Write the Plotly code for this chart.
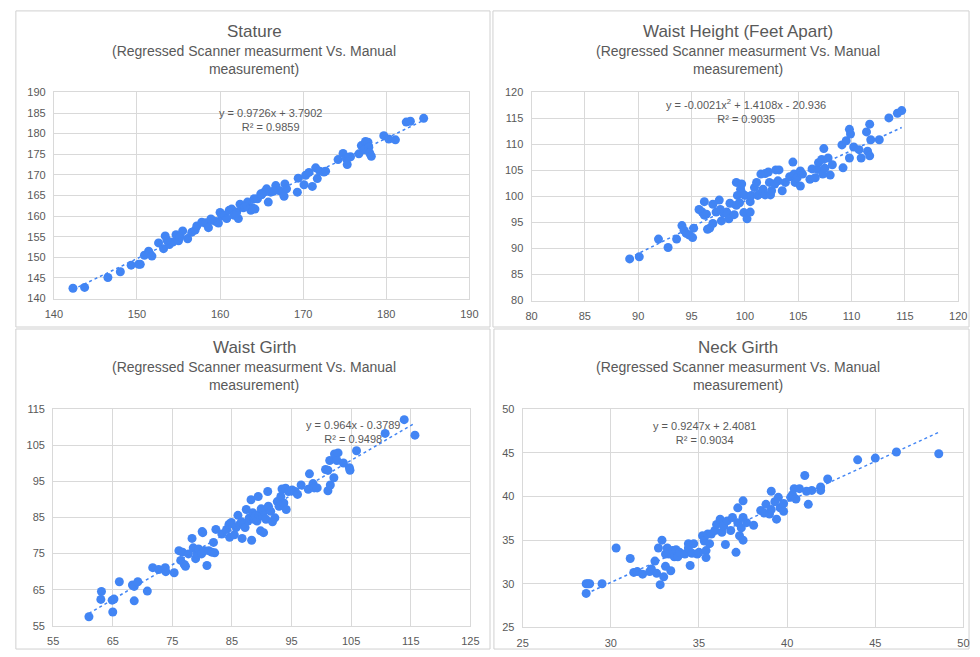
import numpy as np
import plotly.graph_objects as go

# ---------------- data ----------------
stature_x = [142.3, 143.7, 146.5, 148.0, 149.3, 150.2, 150.4, 150.9, 151.4, 151.5, 151.8, 152.6, 153.2, 153.4,
             153.9, 154.3, 154.7, 155.0, 155.5, 156.1, 156.6, 157.0, 157.2, 157.8, 158.3, 158.6, 159.0, 159.5,
             159.8, 160.0, 160.2, 160.6, 160.8, 161.1, 161.4, 161.7, 162.0, 162.2, 162.4, 162.8, 163.1, 163.3,
             163.7, 163.9, 164.1, 164.2, 164.5, 164.9, 165.3, 165.6, 165.8, 166.1, 166.7, 167.1, 167.5, 167.7,
             167.8, 168.0, 169.3, 169.4, 170.1, 170.3, 170.7, 171.1, 171.5, 171.7, 172.0, 172.5, 172.7, 174.2,
             174.8, 175.2, 175.3, 175.5, 175.7, 176.7, 177.0, 177.3, 177.5, 177.8, 177.9, 178.0, 178.2, 179.7,
             180.3, 181.1, 182.4, 182.9, 184.5, 153.6, 155.2, 158.9, 161.9, 163.0, 165.0, 166.4]
stature_y = [142.5, 142.7, 145.1, 146.5, 148.1, 148.3, 148.3, 150.5, 151.5, 151.0, 150.3, 153.5, 152.1, 155.2,
             153.1, 153.7, 155.5, 154.0, 156.4, 154.5, 156.1, 156.6, 157.6, 158.5, 158.4, 157.2, 159.0, 158.7,
             158.3, 160.9, 160.0, 160.2, 159.4, 161.4, 161.7, 160.2, 161.0, 159.4, 162.9, 162.0, 162.6, 163.4,
             161.4, 162.0, 164.2, 161.7, 164.2, 165.4, 165.8, 166.6, 163.4, 165.8, 167.4, 166.2, 165.8, 164.8,
             167.8, 166.6, 165.8, 169.2, 167.6, 169.9, 170.6, 167.2, 171.7, 169.1, 170.9, 170.7, 170.9, 173.7,
             175.2, 173.9, 172.5, 174.3, 174.4, 175.1, 177.1, 176.1, 178.1, 177.9, 176.7, 175.3, 174.5, 179.5,
             178.7, 178.5, 182.8, 183.0, 183.7, 154.2, 155.0, 159.3, 160.6, 162.3, 165.2, 166.0]

waist_h_x = [89.2, 90.1, 91.9, 92.8, 93.6, 94.1, 94.3, 94.5, 94.8, 95.1, 95.2, 95.7, 96.0, 96.2, 96.2, 96.4, 96.5,
             96.7, 97.0, 97.0, 97.3, 97.6, 97.7, 97.8, 98.0, 98.3, 98.5, 98.6, 99.0, 99.2, 99.2, 99.3, 99.5, 99.6,
             99.7, 99.8, 99.9, 100.0, 100.2, 100.5, 100.5, 100.6, 100.9, 101.1, 101.2, 101.4, 101.5, 101.7, 101.9,
             101.9, 102.2, 102.3, 102.4, 102.5, 102.8, 102.9, 103.1, 103.2, 103.5, 103.8, 104.2, 104.5, 104.6,
             104.7, 104.9, 105.2, 105.2, 105.4, 106.1, 106.3, 106.6, 106.8, 106.9, 107.2, 107.3, 107.4, 107.5,
             107.8, 108.0, 108.2, 109.2, 109.1, 109.5, 109.8, 109.9, 109.8, 110.2, 110.7, 110.9, 111.4, 111.5,
             111.7, 111.7, 111.8, 112.6, 113.5, 114.3, 114.7]
waist_h_y = [88.0, 88.4, 91.8, 90.2, 91.8, 94.4, 93.5, 92.9, 92.6, 92.1, 93.9, 97.5, 97.0, 99.0, 96.4, 96.6, 93.7,
             93.9, 94.8, 98.5, 97.0, 99.3, 97.5, 95.3, 96.8, 97.0, 95.7, 98.7, 96.5, 98.3, 102.7, 100.2, 98.8,
             101.4, 102.4, 100.5, 96.9, 100.2, 95.7, 99.0, 97.0, 100.2, 101.7, 102.7, 100.2, 100.5, 104.3, 101.4,
             104.4, 100.3, 104.7, 102.7, 100.3, 101.1, 102.4, 105.1, 103.0, 105.1, 101.1, 102.7, 103.8, 106.6,
             104.3, 102.7, 103.6, 102.0, 104.9, 104.3, 103.3, 105.3, 103.6, 105.2, 106.5, 107.1, 104.3, 109.2,
             105.4, 107.4, 104.1, 106.1, 105.5, 109.9, 110.7, 112.9, 112.0, 107.4, 109.5, 109.0, 107.4, 112.4,
             108.7, 107.8, 113.9, 110.9, 110.9, 115.1, 116.0, 116.5]

waist_g_x = [61.0, 63.1, 63.0, 64.9, 65.2, 65.0, 66.1, 68.3, 68.6, 68.6, 69.2, 70.8, 71.7, 72.7, 73.8, 73.9, 75.3,
             76.1, 76.7, 76.4, 77.0, 77.2, 77.7, 78.3, 78.5, 78.9, 79.2, 79.4, 79.9, 80.0, 80.1, 80.4, 80.8, 81.1,
             81.6, 81.9, 82.1, 82.3, 83.3, 84.1, 84.5, 84.6, 84.9, 85.4, 85.7, 86.0, 86.3, 86.6, 86.7, 87.0, 87.2,
             87.4, 87.7, 87.9, 88.2, 88.3, 88.5, 88.7, 88.9, 89.2, 89.4, 89.6, 89.8, 89.9, 90.1, 90.3, 90.4, 90.7,
             91.0, 91.1, 91.5, 91.8, 92.2, 92.6, 92.9, 93.2, 93.4, 93.7, 94.0, 94.1, 94.5, 95.1, 95.6, 96.0, 96.6,
             97.8, 98.0, 98.6, 98.8, 99.3, 100.7, 101.1, 101.1, 101.4, 101.5, 102.1, 102.2, 102.8, 102.6, 103.7,
             104.7, 104.8, 105.9, 110.7, 113.9, 115.7]
waist_g_y = [57.5, 64.5, 62.3, 62.1, 62.4, 58.8, 67.2, 66.3, 65.9, 61.9, 67.2, 64.6, 71.1, 70.6, 71.1, 70.0, 69.7,
             75.8, 75.4, 73.1, 72.0, 71.5, 74.9, 79.2, 76.6, 73.6, 74.9, 76.3, 74.9, 81.1, 80.8, 75.8, 71.7, 75.8,
             75.4, 78.1, 75.2, 81.7, 80.4, 81.7, 83.1, 79.5, 83.6, 80.2, 82.2, 85.6, 83.1, 83.8, 79.2, 83.1, 82.2,
             87.2, 84.0, 84.9, 89.9, 78.7, 86.3, 84.5, 85.4, 84.0, 90.8, 85.8, 81.3, 87.4, 85.4, 80.8, 86.7, 84.5,
             92.2, 88.1, 86.7, 83.8, 84.9, 89.4, 88.1, 90.8, 92.9, 89.0, 93.1, 87.2, 92.2, 92.6, 92.2, 91.4, 94.0,
             92.8, 97.1, 94.4, 93.2, 93.2, 98.3, 98.1, 92.4, 100.8, 94.0, 96.0, 102.6, 102.9, 100.8, 100.1,
             98.8, 98.1, 103.5, 108.3, 112.1, 107.8]

neck_x = [28.6, 28.7, 28.8, 28.6, 29.5, 30.3, 31.1, 31.3, 31.5, 31.8, 32.2, 32.3, 32.5, 32.6, 32.7, 32.8, 32.9,
          33.0, 33.1, 33.1, 33.2, 33.3, 33.4, 33.5, 33.6, 33.7, 33.8, 33.9, 34.2, 34.4, 34.4, 34.5, 34.6, 34.7,
          34.9, 35.0, 35.2, 35.3, 35.4, 35.4, 35.5, 35.6, 35.7, 35.9, 36.0, 36.2, 36.3, 36.4, 36.5, 36.6, 36.8,
          36.9, 37.1, 37.2, 37.2, 37.3, 37.4, 37.5, 37.5, 37.5, 37.7, 38.1, 38.5, 38.7, 38.8, 39.0, 39.1, 39.1,
          39.3, 39.4, 39.5, 39.6, 39.8, 39.8, 40.2, 40.3, 40.4, 40.5, 40.7, 41.0, 41.1, 41.2, 41.4, 41.9, 41.9,
          42.3, 44.0, 45.0, 46.2, 48.6]
neck_y = [30.0, 30.0, 30.0, 28.9, 30.0, 34.1, 32.9, 31.3, 31.4, 31.1, 31.4, 31.7, 32.6, 31.2, 34.1, 29.9, 35.0,
          30.8, 32.0, 33.4, 34.1, 33.4, 31.5, 33.8, 33.1, 33.9, 33.1, 33.6, 33.4, 34.6, 34.1, 32.1, 33.5, 34.6,
          33.4, 33.6, 35.5, 34.9, 33.8, 33.0, 35.7, 34.6, 35.7, 36.1, 36.8, 37.4, 35.9, 36.6, 34.5, 37.2, 36.1,
          37.6, 33.6, 38.7, 37.0, 35.5, 36.4, 37.6, 39.5, 35.0, 37.0, 36.7, 38.4, 38.1, 39.1, 38.0, 40.6, 38.5,
          39.4, 37.4, 39.9, 38.7, 39.2, 38.3, 39.9, 40.2, 40.9, 39.7, 40.9, 42.4, 40.6, 39.1, 40.7, 41.1, 40.7,
          42.0, 44.2, 44.4, 45.1, 44.9]

titles = ["Stature", "Waist Height (Feet Apart)", "Waist Girth", "Neck Girth"]
subtitle = "(Regressed Scanner measurment Vs. Manual<br>measurement)"

trend_coefs = [[0.9726, 3.7902], [-0.0021, 1.4108, -20.936], [0.964, -0.3789], [0.9247, 2.4081]]
eq_labels = ["y = 0.9726x + 3.7902<br>R² = 0.9859",
             "y = -0.0021x<sup>2</sup> + 1.4108x - 20.936<br>R² = 0.9035",
             "y = 0.964x - 0.3789<br>R² = 0.9498",
             "y = 0.9247x + 2.4081<br>R² = 0.9034"]
eq_pos = [(166.1, 183.3), (100.1, 116.35), (105.3, 108.65), (35.3, 47.3)]

x_ranges = [(140, 190, 10), (80, 120, 5), (55, 125, 10), (25, 50, 5)]
y_ranges = [(140, 190, 5), (80, 120, 5), (55, 115, 10), (25, 50, 5)]

xs = [stature_x, waist_h_x, waist_g_x, neck_x]
ys = [stature_y, waist_h_y, waist_g_y, neck_y]

# ---------------- layout ----------------
W, H = 980, 657
x_dom = [(45.7, 469), (532.3, 967), (45, 470), (523.3, 972.3)]
y_dom = [(88, 298), (88, 300), (410.7, 631.3), (410.7, 633)]
title_pos = [(250, 26, 55), (742.7, 26, 55), (250, 348, 376.5), (742.7, 348, 376.5)]
boxes = [(7, 5, 490, 327), (493, 5, 978, 327), (7, 329, 490, 655), (494, 329, 978, 655)]

BLUE = "#4285f4"
GRID = "#d9d9d9"
TXT = "#595959"
FONT = "Liberation Sans, Arial, sans-serif"

fig = go.Figure()
layout = dict(width=W, height=H, margin=dict(l=0, r=0, t=0, b=0), paper_bgcolor="white",
              plot_bgcolor="white", showlegend=False, font=dict(family=FONT, color=TXT))
annotations = []
shapes = []
for i in range(4):
    sfx = "" if i == 0 else str(i + 1)
    xa, ya = "x" + sfx, "y" + sfx
    fig.add_trace(go.Scatter(x=xs[i], y=ys[i], mode="markers", xaxis=xa, yaxis=ya,
                             marker=dict(color=BLUE, size=9, line=dict(width=0)), hoverinfo="x+y"))
    tx = np.linspace(min(xs[i]), max(xs[i]), 60)
    fig.add_trace(go.Scatter(x=tx, y=np.polyval(trend_coefs[i], tx), mode="lines", xaxis=xa, yaxis=ya,
                             line=dict(color=BLUE, width=1.5, dash="dot"), hoverinfo="skip"))
    x0, x1 = x_dom[i]
    yt, yb = y_dom[i]
    xr, yr = x_ranges[i], y_ranges[i]
    common = dict(showgrid=True, gridcolor=GRID, gridwidth=1, zeroline=False, showline=True,
                  linecolor=GRID, linewidth=1, mirror=True, ticks="outside", tickcolor="rgba(0,0,0,0)",
                  ticklen=5, tickfont=dict(size=11, color=TXT, family=FONT), fixedrange=True)
    layout["xaxis" + sfx] = dict(domain=[x0 / W, x1 / W], range=[xr[0], xr[1]], dtick=xr[2], tick0=xr[0],
                                 anchor=ya, **common)
    layout["yaxis" + sfx] = dict(domain=[1 - yb / H, 1 - yt / H], range=[yr[0], yr[1]], dtick=yr[2],
                                 tick0=yr[0], anchor=xa, **common)
    cx, ty, sy = title_pos[i]
    annotations.append(dict(text=titles[i], x=cx / W, y=1 - ty / H, xref="paper", yref="paper",
                            showarrow=False, xanchor="center", yanchor="middle",
                            font=dict(size=17, color=TXT, family=FONT)))
    annotations.append(dict(text=subtitle, x=cx / W, y=1 - sy / H, xref="paper", yref="paper",
                            showarrow=False, xanchor="center", yanchor="middle",
                            font=dict(size=14, color=TXT, family=FONT)))
    ex, ey = eq_pos[i]
    annotations.append(dict(text=eq_labels[i], x=ex, y=ey, xref=xa, yref=ya, showarrow=False,
                            xanchor="center", yanchor="middle", align="center",
                            font=dict(size=11, color=TXT, family=FONT)))
    bx0, by0, bx1, by1 = boxes[i]
    shapes.append(dict(type="rect", xref="paper", yref="paper", x0=bx0 / W, x1=bx1 / W,
                       y0=1 - by1 / H, y1=1 - by0 / H, line=dict(color="#d0d0d0", width=1),
                       fillcolor="rgba(0,0,0,0)", layer="below"))
layout["annotations"] = annotations
layout["shapes"] = shapes
fig.update_layout(**layout)
fig.write_html("out.html", config={"displayModeBar": False},
               post_script="document.body.style.margin='0';document.body.style.overflow='hidden';")
